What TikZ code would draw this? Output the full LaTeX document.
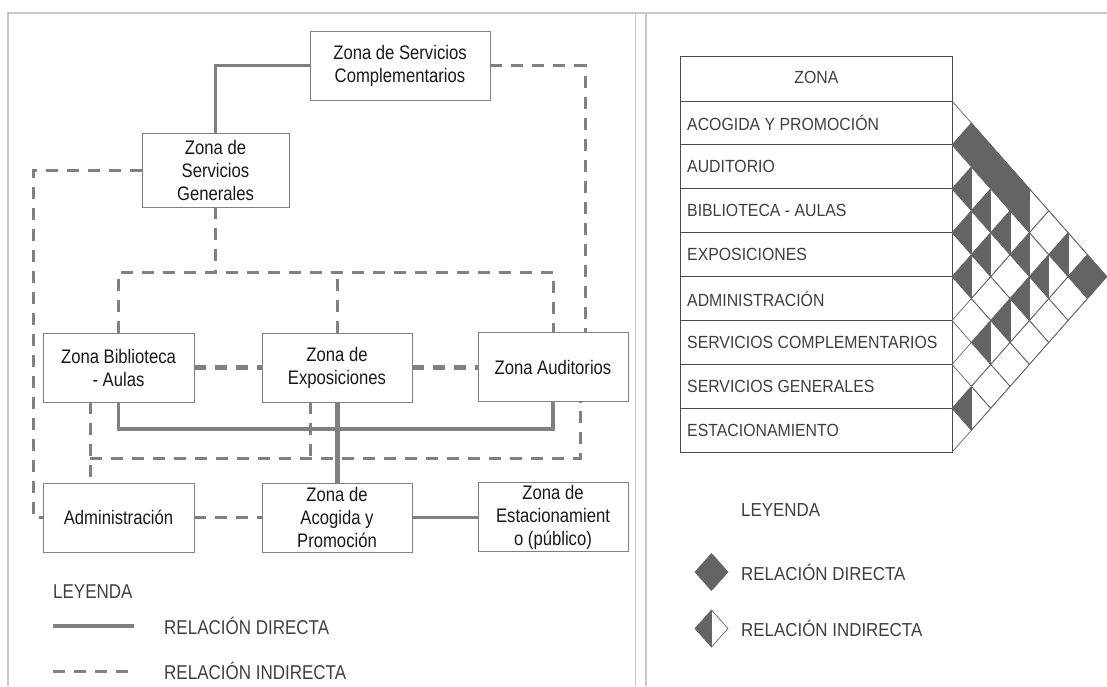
\documentclass[tikz,border=0pt]{standalone}
\usepackage{fontspec}
\setmainfont{Liberation Sans}
\newfontfamily\narrowa{Liberation Sans}[FakeStretch=0.85]
\newfontfamily\narrowb{Liberation Sans}[FakeStretch=0.9]
\usetikzlibrary{calc}
\definecolor{linegray}{RGB}{128,128,128}
\definecolor{framegray}{RGB}{200,200,200}
\definecolor{cellgray}{RGB}{100,100,100}
\definecolor{txtgray}{RGB}{60,64,67}

\begin{document}
\begin{tikzpicture}[x=1pt, y=-1pt, line join=miter]
	\narrowa\fontsize{19.6}{23}\selectfont
	\def \cola{118.5}
	\def \colb{337}
	\def \colc{553}
	\def \tabl{680.7}
	\def \tabr{952}
	\def \rowtop{101}
	\def \rowh{43.9}
	\def \cw{19.35}
	\def \chh{21.95}
	\tikzstyle{zona}=[draw=black!50, line width=0.8pt, fill=white, minimum width=150pt, minimum height=69pt, inner sep=1pt, align=center, text=black!90]
	\tikzstyle{directo}=[draw=linegray, line width=3.5pt]
	\tikzstyle{indirecto}=[draw=linegray, line width=3pt, dash pattern=on 12pt off 9pt]
	\tikzstyle{tabla}=[draw=black!70, line width=1pt]
	\tikzstyle{celda}=[draw=black!60, line width=0.7pt]
	\tikzstyle{txt}=[text=txtgray, inner sep=0pt, font=\narrowb\fontsize{17.6}{20}\selectfont]
	\tikzstyle{leytxt}=[anchor=west, inner sep=0pt, text=black!75, font=\narrowa\fontsize{20}{22}\selectfont]

	\fill[white] (0,0) rectangle (1107,686);
	\useasboundingbox (0,0) rectangle (1107,686);
	\draw[framegray, line width=1.5pt] (8,686) -- (8,13) -- (1107,13);
	\draw[framegray, line width=1.5pt] (635.5,13) -- (635.5,686);
	\draw[framegray, line width=1.5pt] (646,13) -- (646,686);

	% zonas
	\node[zona, minimum width=180pt] (sc) at (400,65.5) {Zona de Servicios\\Complementarios};
	\node[zona, minimum width=147pt, minimum height=74pt] (sg) at (215.5,170) {Zona de\\Servicios\\Generales};
	\node[zona, minimum width=151pt] (bib) at (\cola,367.5) {Zona Biblioteca\\- Aulas};
	\node[zona] (exp) at (\colb,367.5) {Zona de\\Exposiciones};
	\node[zona] (aud) at (\colc,367) {Zona Auditorios};
	\node[zona, minimum width=151pt] (adm) at (\cola,517.5) {Administración};
	\node[zona] (aco) at (\colb,517.5) {Zona de\\Acogida y\\Promoción};
	\node[zona] (est) at (\colc,517) {Zona de\\Estacionamient\\o (público)};

	\coordinate (busi) at (0,272);
	\coordinate (busd) at (0,429);
	\coordinate (busl) at (0,458);
	\coordinate (lft) at (33,517.5);

	% relacion directa
	\draw[directo] (sc.west) -| (sg.north);
	\draw[directo] (bib.south) |- (aud.south |- busd) -- (aud.south);
	\draw[directo, line width=5pt] (exp.south) -- (aco.north);
	\draw[directo] (aco.east) -- (aco.east -| est.west);

	% relacion indirecta
	\draw[indirecto] (sc.east) -| ([xshift=32pt]aud.north);
	\draw[indirecto] (sg.west) -| (lft) -- (adm.west);
	\draw[indirecto] (sg.south) -- (sg.south |- busi);
	\draw[indirecto] (bib.north) |- (aud.north |- busi) -- (aud.north);
	\draw[indirecto] (exp.north) -- (exp.north |- busi);
	\draw[indirecto, line width=4.5pt] (bib.east) -- (bib.east -| exp.west);
	\draw[indirecto, line width=4.5pt] (exp.east) -- (exp.east -| aud.west);
	\draw[indirecto] ([xshift=-28.5pt]bib.south) -- ([xshift=-28.5pt]adm.north);
	\draw[indirecto] ([xshift=-28.5pt]bib.south |- busl) -| ([xshift=27pt]aud.south);
	\draw[indirecto] ([xshift=-27pt]exp.south) -- ([xshift=-27pt]exp.south |- busl);
	\draw[indirecto] (adm.east) -- (aco.west);

	% leyenda
	\node[leytxt] (ley1) at (53,592) {LEYENDA};
	\draw[directo] (53,626) -- (134,626);
	\node[leytxt] (rd1) at (164,626) {RELACIÓN DIRECTA};
	\draw[indirecto] (53,671) -- (134,671);
	\node[leytxt] (ri1) at (164,671) {RELACIÓN INDIRECTA};

	% matriz
	\draw[tabla] (\tabl,56) rectangle (\tabr,\rowtop);
	\node[txt] (zonah) at ({(\tabl+\tabr)/2},77) {ZONA};
	\foreach \n [count=\k from 0] in {ACOGIDA Y PROMOCIÓN, AUDITORIO, BIBLIOTECA - AULAS, EXPOSICIONES, ADMINISTRACIÓN, SERVICIOS COMPLEMENTARIOS, SERVICIOS GENERALES, ESTACIONAMIENTO} {
		\draw[tabla] (\tabl,{\rowtop+\k*\rowh}) rectangle (\tabr,{\rowtop+(\k+1)*\rowh});
		\node[txt, anchor=west] (z\k) at (687,{\rowtop+(\k+0.5)*\rowh}) {\n};
	}
	\foreach \i/\j in {0/1,0/2,0/3,0/7} {
		\pgfmathsetmacro\cx{\tabr+(\j-\i)*\cw}
		\pgfmathsetmacro\cy{\rowtop+(\i+\j+1)*\chh}
		\fill[cellgray] ({\cx-\cw},\cy) -- (\cx,{\cy-\chh}) -- ({\cx+\cw},\cy) -- (\cx,{\cy+\chh}) -- cycle;
	}
	\foreach \i/\j in {0/4,0/6,1/2,1/3,1/4,1/5,1/6,2/3,2/4,2/6,3/4,3/6,4/6,6/7} {
		\pgfmathsetmacro\cx{\tabr+(\j-\i)*\cw}
		\pgfmathsetmacro\cy{\rowtop+(\i+\j+1)*\chh}
		\fill[cellgray] ({\cx-\cw},\cy) -- (\cx,{\cy-\chh}) -- (\cx,{\cy+\chh}) -- cycle;
		\draw[celda] (\cx,{\cy-\chh}) -- (\cx,{\cy+\chh});
	}
	\foreach \i in {0,...,6} {
		\pgfmathtruncatemacro\jn{\i+1}
		\foreach \j in {\jn,...,7} {
			\pgfmathsetmacro\cx{\tabr+(\j-\i)*\cw}
			\pgfmathsetmacro\cy{\rowtop+(\i+\j+1)*\chh}
			\draw[celda] ({\cx-\cw},\cy) -- (\cx,{\cy-\chh}) -- ({\cx+\cw},\cy) -- (\cx,{\cy+\chh}) -- cycle;
		}
	}
	\draw[celda] (\tabr,\rowtop) -- ({\tabr+8*\cw},{\rowtop+4*\rowh}) -- (\tabr,{\rowtop+8*\rowh});

	% leyenda matriz
	\node[txt, anchor=west, font=\narrowb\fontsize{18.8}{21}\selectfont] (ley2) at (741,510) {LEYENDA};
	\fill[cellgray] (695,572) -- (711.5,553.5) -- (728,572) -- (711.5,590.5) -- cycle;
	\draw[celda] (695,572) -- (711.5,553.5) -- (728,572) -- (711.5,590.5) -- cycle;
	\node[txt, anchor=west, font=\narrowb\fontsize{18.8}{21}\selectfont] (rd2) at (741,572) {RELACIÓN DIRECTA};
	\fill[cellgray] (695,628.5) -- (711.5,610) -- (711.5,647) -- cycle;
	\draw[celda] (695,628.5) -- (711.5,610) -- (728,628.5) -- (711.5,647) -- cycle;
	\draw[celda] (711.5,610) -- (711.5,647);
	\node[txt, anchor=west, font=\narrowb\fontsize{18.8}{21}\selectfont] (ri2) at (741,628.5) {RELACIÓN INDIRECTA};
\end{tikzpicture}
\end{document}
